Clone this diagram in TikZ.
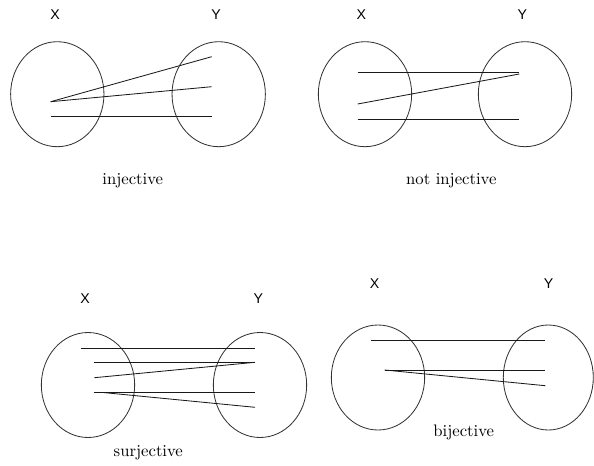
\documentclass[tikz,border=0pt]{standalone}
\usepackage{fontspec}
\newfontfamily\setfont{Liberation Sans}
\usepackage{tikz}
\usetikzlibrary{shapes.geometric}

\begin{document}
\begin{tikzpicture}[
    x=0.6pt, y=-0.6pt,
    set/.style={draw=black!80, ellipse, minimum width=56pt, minimum height=63pt, inner sep=0pt, line width=0.5pt},
    set label/.style={font=\setfont\fontsize{8.5}{10}\selectfont},
    caption/.style={font=\normalsize},
    map/.style={draw=black!90, line width=0.5pt},
]
\useasboundingbox (0,0) rectangle (594,465);

% Injective
\node[set label] (lx1) at (55,15) {X};
\node[set label] (ly1) at (216,15) {Y};
\node[set] (sx1) at (57.3,94.2) {};
\node[set] (sy1) at (218.7,94.2) {};
\coordinate (p11) at (50.7,101.7);
\coordinate (p12) at (50.7,116.7);
\coordinate (q11) at (211.7,56.7);
\coordinate (q12) at (211.7,86.7);
\coordinate (q13) at (211.7,116.7);
\draw[map] (p11) -- (q11);
\draw[map] (p11) -- (q12);
\draw[map] (p12) -- (q13);
\node[caption] (c1) at (132.7,181) {injective};

% Not injective
\node[set label] (lx2) at (361.3,15) {X};
\node[set label] (ly2) at (522.3,15) {Y};
\node[set] (sx2) at (365,94.2) {};
\node[set] (sy2) at (525,94.2) {};
\coordinate (p21) at (357.7,72.3);
\coordinate (p22) at (357.7,104);
\coordinate (p23) at (357.7,119);
\coordinate (q21) at (519.3,72.3);
\coordinate (q22) at (519.3,74);
\coordinate (q23) at (519.3,119);
\draw[map] (p21) -- (q21);
\draw[map] (p22) -- (q22);
\draw[map] (p23) -- (q23);
\node[caption] (c2) at (451.3,181) {not injective};

% Surjective
\node[set label] (lx3) at (85,298.3) {X};
\node[set label] (ly3) at (258.3,298.3) {Y};
\node[set] (sx3) at (88,385) {};
\node[set] (sy3) at (260,385) {};
\coordinate (p31) at (80.7,348.3);
\coordinate (p32) at (94.3,362.3);
\coordinate (p33) at (94.3,377.7);
\coordinate (p34) at (94.3,392.5);
\coordinate (p35) at (103,392.5);
\coordinate (q31) at (255,348.3);
\coordinate (q32) at (255,362.3);
\coordinate (q33) at (255,392.5);
\coordinate (q34) at (255,407.3);
\draw[map] (p31) -- (q31);
\draw[map] (p32) -- (q32);
\draw[map] (p33) -- (q32);
\draw[map] (p34) -- (q33);
\draw[map] (p35) -- (q34);
\node[caption] (c3) at (148.3,453) {surjective};

% Bijective
\node[set label] (lx4) at (374.7,283.3) {X};
\node[set label] (ly4) at (548.7,283.3) {Y};
\node[set] (sx4) at (378,377.5) {};
\node[set, minimum width=54pt] (sy4) at (548.3,377.5) {};
\coordinate (p41) at (371,340.7);
\coordinate (p42) at (384.7,370);
\coordinate (q41) at (545.3,340.7);
\coordinate (q42) at (545.3,370);
\coordinate (q43) at (545.3,385.7);
\draw[map] (p41) -- (q41);
\draw[map] (p42) -- (q42);
\draw[map] (p42) -- (q43);
\node[caption] (c4) at (463.7,432) {bijective};

\end{tikzpicture}
\end{document}
